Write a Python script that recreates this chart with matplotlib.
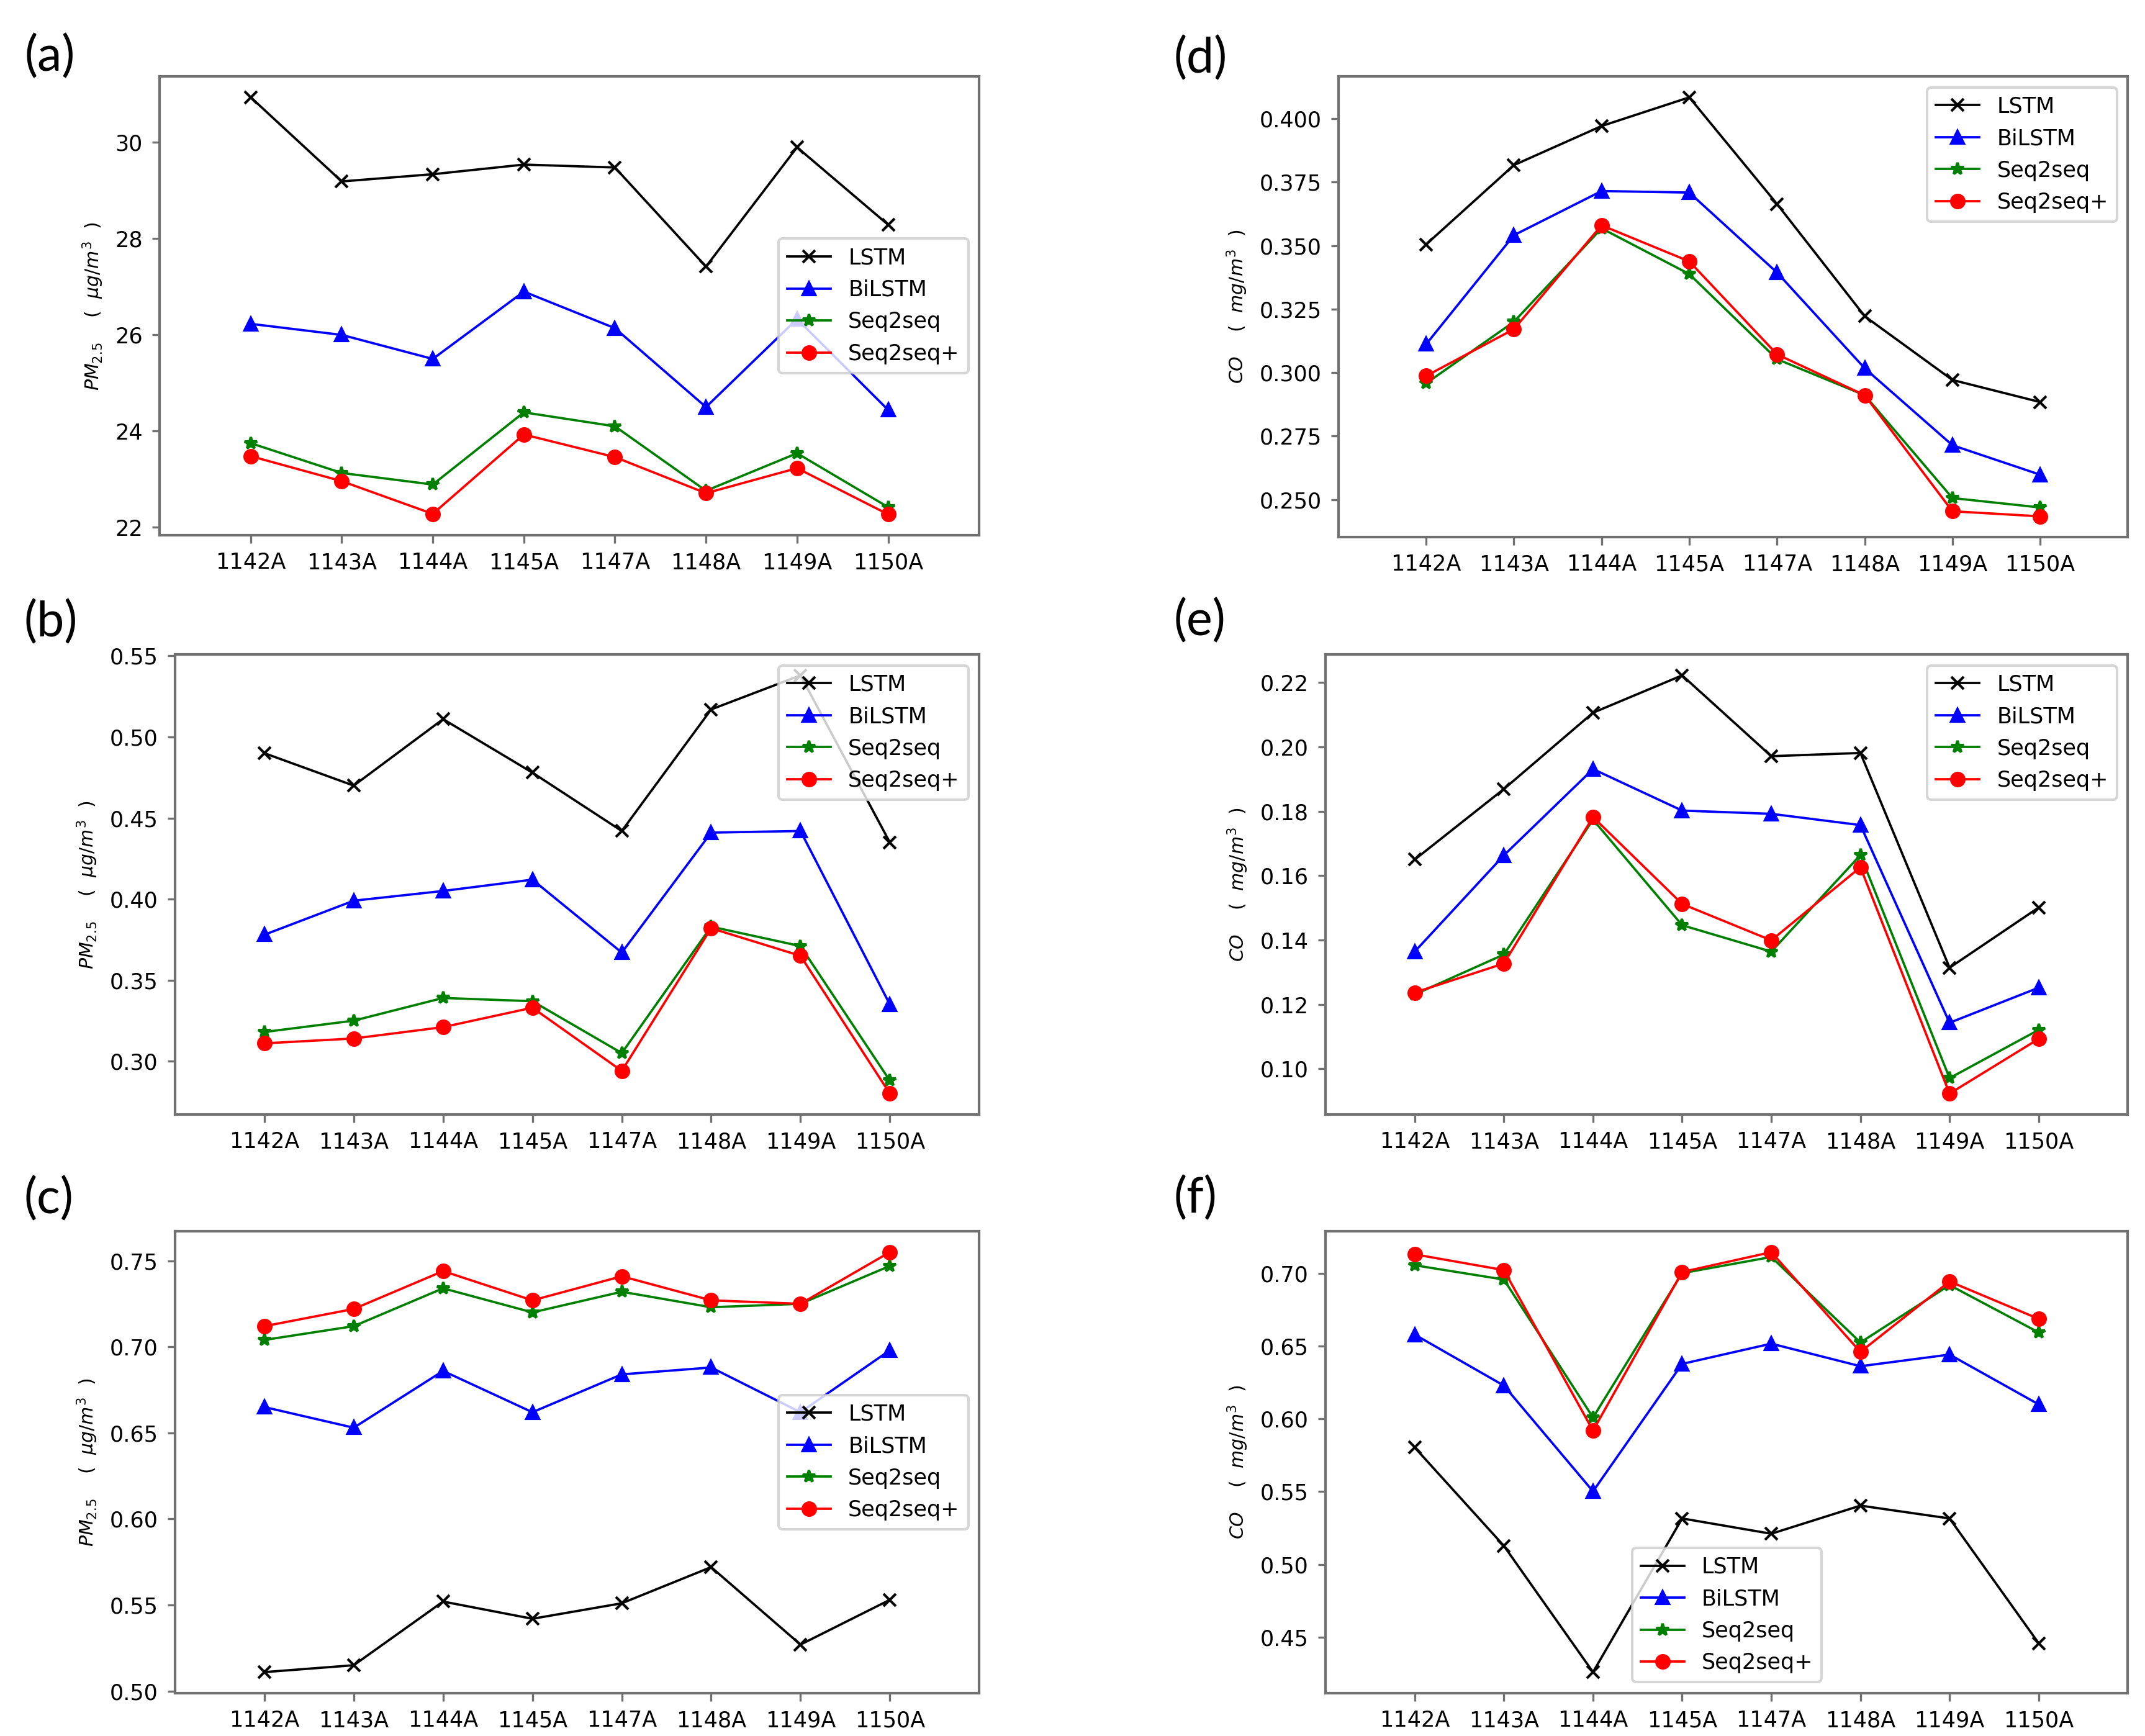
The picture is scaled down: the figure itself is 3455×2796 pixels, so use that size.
import matplotlib
matplotlib.use("Agg")
import matplotlib.pyplot as plt

# 站点 (x 轴)
stations = ["1142A", "1143A", "1144A", "1145A", "1147A", "1148A", "1149A", "1150A"]
models = ["LSTM", "BiLSTM", "Seq2seq", "Seq2seq+"]

# (a) PM2.5
a_lstm = [30.94, 29.19, 29.34, 29.54, 29.48, 27.42, 29.90, 28.29]
a_bilstm = [26.23, 26.00, 25.50, 26.90, 26.14, 24.50, 26.33, 24.44]
a_seq = [23.75, 23.13, 22.89, 24.39, 24.10, 22.76, 23.54, 22.42]
a_seqp = [23.48, 22.96, 22.28, 23.93, 23.46, 22.71, 23.23, 22.27]

# (b) PM2.5
b_lstm = [0.490, 0.470, 0.511, 0.478, 0.442, 0.517, 0.538, 0.435]
b_bilstm = [0.378, 0.399, 0.405, 0.412, 0.367, 0.441, 0.442, 0.335]
b_seq = [0.318, 0.325, 0.339, 0.337, 0.305, 0.383, 0.371, 0.288]
b_seqp = [0.311, 0.314, 0.321, 0.333, 0.294, 0.382, 0.365, 0.280]

# (c) PM2.5
c_lstm = [0.511, 0.515, 0.552, 0.542, 0.551, 0.572, 0.527, 0.553]
c_bilstm = [0.665, 0.653, 0.686, 0.662, 0.684, 0.688, 0.662, 0.698]
c_seq = [0.704, 0.712, 0.734, 0.720, 0.732, 0.723, 0.725, 0.747]
c_seqp = [0.712, 0.722, 0.744, 0.727, 0.741, 0.727, 0.725, 0.755]

# (d) CO
d_lstm = [0.3505, 0.3817, 0.3971, 0.4084, 0.3664, 0.3222, 0.2971, 0.2884]
d_bilstm = [0.3112, 0.3541, 0.3715, 0.3709, 0.3394, 0.3017, 0.2714, 0.2598]
d_seq = [0.2958, 0.3200, 0.3568, 0.3388, 0.3053, 0.2911, 0.2506, 0.2469]
d_seqp = [0.2987, 0.3171, 0.3580, 0.3438, 0.3072, 0.2911, 0.2454, 0.2434]

# (e) CO
e_lstm = [0.1650, 0.1869, 0.2106, 0.2222, 0.1971, 0.1981, 0.1314, 0.1501]
e_bilstm = [0.1364, 0.1663, 0.1931, 0.1802, 0.1792, 0.1757, 0.1143, 0.1252]
e_seq = [0.1231, 0.1355, 0.1774, 0.1446, 0.1364, 0.1664, 0.0971, 0.1121]
e_seqp = [0.1237, 0.1327, 0.1782, 0.1512, 0.1399, 0.1626, 0.0923, 0.1093]

# (f) CO
f_lstm = [0.5803, 0.5128, 0.4261, 0.5316, 0.5211, 0.5404, 0.5316, 0.4459]
f_bilstm = [0.6578, 0.6228, 0.5502, 0.6377, 0.6516, 0.6361, 0.6441, 0.6099]
f_seq = [0.7054, 0.6956, 0.6009, 0.7000, 0.7111, 0.6524, 0.6918, 0.6593]
f_seqp = [0.7129, 0.7021, 0.5919, 0.7008, 0.7144, 0.6459, 0.6943, 0.6686]

pm_label = r"$PM_{2.5}\ \ \ \ (\ \ \mu g/m^3\ \ )$"
co_label = r"$CO\ \ \ \ (\ \ mg/m^3\ \ )$"

styles = [("k", "x"), ("b", "^"), ("g", "*"), ("r", "o")]

# 각 패널: (태그, 데이터, y라벨, 범례 위치, 축 위치, 라벨 위치)
panels = [
    ("(a)", [a_lstm, a_bilstm, a_seq, a_seqp], pm_label, "center right",
     [0.0744, 0.6917, 0.3821, 0.2643], (0.0113, 0.9673)),
    ("(b)", [b_lstm, b_bilstm, b_seq, b_seqp], pm_label, "upper right",
     [0.0816, 0.3580, 0.3749, 0.2650], (0.0110, 0.6416)),
    ("(c)", [c_lstm, c_bilstm, c_seq, c_seqp], pm_label, "center right",
     [0.0816, 0.0247, 0.3749, 0.2661], (0.0110, 0.3090)),
    ("(d)", [d_lstm, d_bilstm, d_seq, d_seqp], co_label, "upper right",
     [0.6240, 0.6905, 0.3680, 0.2655], (0.5473, 0.9662)),
    ("(e)", [e_lstm, e_bilstm, e_seq, e_seqp], co_label, "upper right",
     [0.6180, 0.3580, 0.3740, 0.2650], (0.5473, 0.6423)),
    ("(f)", [f_lstm, f_bilstm, f_seq, f_seqp], co_label, "lower center",
     [0.6180, 0.0247, 0.3740, 0.2661], (0.5473, 0.3094)),
]

fs = 8.4
fig = plt.figure(figsize=(3455 / 300, 2796 / 300), dpi=300)

for tag, series, ylab, loc, rect, lpos in panels:
    ax = fig.add_axes(rect)
    x = range(len(stations))
    for name, vals, (c, m) in zip(models, series, styles):
        ax.plot(x, vals, color=c, marker=m, lw=0.9, markersize=5, label=name)
    ax.set_xlim(-1, len(stations))
    ax.set_xticks(list(x))
    ax.set_xticklabels(stations, fontsize=fs)
    ax.tick_params(axis="y", labelsize=fs)
    ax.tick_params(color="#707070", width=0.8, length=3)
    for sp in ax.spines.values():
        sp.set_color("#707070")
        sp.set_linewidth(1.0)
    ax.set_ylabel(ylab, fontsize=7.2)
    ax.legend(loc=loc, fontsize=fs)
    fig.text(lpos[0], lpos[1], tag, fontsize=19, family="Lato", va="center", ha="left")

fig.savefig("out.png", dpi=300, facecolor="white")
